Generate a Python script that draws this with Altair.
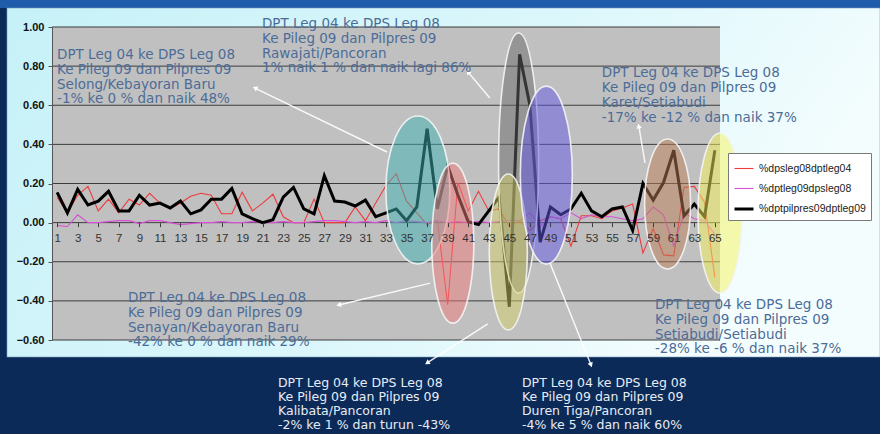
import math
import altair as alt
import pandas as pd

# ---- series data -------------------------------------------------------
categories = list(range(1, 66))

dpsleg08_dptleg04 = [
    0.13, 0.05, 0.14, 0.185, 0.06, 0.12, 0.05, 0.12, 0.09, 0.15,
    0.10, 0.07, 0.10, 0.135, 0.15, 0.14, 0.045, 0.045, 0.155, 0.06,
    0.10, 0.145, 0.03, 0.0, 0.0, 0.12, 0.0, 0.0, 0.0, 0.08,
    0.01, 0.10, 0.19, 0.25, 0.11, 0.05, -0.01, 0.01, -0.42, 0.205,
    0.06, 0.16, 0.06, 0.07, -0.02, 0.01, -0.04, 0.01, 0.03, 0.02,
    -0.12, 0.035, 0.035, 0.02, 0.06, 0.075, 0.095, -0.155, -0.03, -0.165,
    -0.17, 0.18, 0.185, 0.105, -0.28,
]

dptleg09_dpsleg08 = [
    -0.015, -0.02, 0.04, 0.0, 0.0, 0.005, 0.01, 0.01, -0.005, 0.01,
    0.01, 0.0, -0.01, -0.005, 0.0, 0.0, 0.005, 0.0, 0.0, 0.005,
    0.0, 0.0, 0.005, 0.0, 0.0, 0.005, 0.01, 0.01, 0.005, 0.0,
    0.005, 0.0, 0.01, 0.0, 0.01, 0.005, 0.0, 0.01, 0.0, 0.005,
    0.0, 0.005, 0.0, 0.005, 0.01, 0.01, 0.05, -0.02, 0.03, 0.02,
    0.05, 0.02, 0.04, 0.03, 0.03, 0.02, 0.01, 0.02, 0.08, 0.04,
    -0.12, 0.05, 0.02, 0.01, -0.06,
]

dptpilpres09_dptleg09 = [
    0.155, 0.05, 0.17, 0.09, 0.11, 0.16, 0.06, 0.06, 0.14, 0.09,
    0.10, 0.075, 0.11, 0.045, 0.065, 0.12, 0.12, 0.175, 0.045, 0.02,
    0.0, 0.015, 0.13, 0.18, 0.07, 0.045, 0.24, 0.11, 0.105, 0.085,
    0.115, 0.03, 0.05, 0.07, 0.01, 0.08, 0.48, 0.07, 0.29, 0.14,
    0.005, -0.01, 0.06, 0.13, -0.43, 0.86, 0.60, -0.10, 0.08, 0.04,
    0.07, 0.15, 0.06, 0.03, 0.07, 0.08, -0.04, 0.20, 0.115, 0.205,
    0.37, 0.035, 0.095, 0.03, 0.37,
]

series_names = ["%dpsleg08dptleg04", "%dptleg09dpsleg08", "%dptpilpres09dptleg09"]
series_values = [dpsleg08_dptleg04, dptleg09_dpsleg08, dptpilpres09_dptleg09]
series_colors = ["#ee3b3b", "#d64fd6", "#000000"]
series_widths = [1.1, 1.1, 3.0]

y_ticks = [-0.6, -0.4, -0.2, 0.0, 0.2, 0.4, 0.6, 0.8, 1.0]
x_ticks = list(range(1, 66, 2))

# ---- highlighted districts: anchor category, value, ellipse colour ----
hl_names = ["Selong", "Senayan", "Rawajati", "Kalibata", "Duren Tiga", "Karet", "Setiabudi"]
hl_cat = [36.1, 39.5, 45.9, 44.9, 48.6, 60.4, 65.5]
hl_val = [0.167, -0.105, 0.305, -0.15, 0.243, 0.095, 0.049]
hl_half_w = [32, 21, 20, 19, 26, 23, 22]
hl_half_h = [74, 80, 130, 78, 89, 65, 80]
hl_fill = ["#3fb2b2", "#f07c7c", "#6a6a6a", "#d4d06a", "#6458e6", "#bc7e58", "#f6f45a"]
hl_order = [0, 1, 2, 3, 4, 5, 6]

# ---- callout texts ----------------------------------------------------
note_lines = [
    ["DPT Leg 04 ke DPS Leg 08", "Ke Pileg 09 dan Pilpres 09", "Selong/Kebayoran Baru", "-1% ke 0 % dan naik 48%"],
    ["DPT Leg 04 ke DPS Leg 08", "Ke Pileg 09 dan Pilpres 09", "Rawajati/Pancoran", "1% naik 1 % dan naik lagi 86%"],
    ["DPT Leg 04 ke DPS Leg 08", "Ke Pileg 09 dan Pilpres 09", "Karet/Setiabudi", "-17% ke -12 % dan naik 37%"],
    ["DPT Leg 04 ke DPS Leg 08", "Ke Pileg 09 dan Pilpres 09", "Senayan/Kebayoran Baru", "-42% ke 0 % dan naik 29%"],
    ["DPT Leg 04 ke DPS Leg 08", "Ke Pileg 09 dan Pilpres 09", "Setiabudi/Setiabudi", "-28% ke -6 % dan naik 37%"],
    ["DPT Leg 04 ke DPS Leg 08", "Ke Pileg 09 dan Pilpres 09", "Kalibata/Pancoran", "-2% ke 1 % dan turun -43%"],
    ["DPT Leg 04 ke DPS Leg 08", "Ke Pileg 09 dan Pilpres 09", "Duren Tiga/Pancoran", "-4% ke 5 % dan naik 60%"],
]
note_cat = [0.99, 20.93, 54.0, 7.9, 59.17, 22.49, 46.23]
note_val = [0.893, 1.051, 0.80, -0.350, -0.385, -0.790, -0.790]
note_on_dark = [False, False, False, False, False, True, True]

# callout leader lines: (from category, from value) -> (to category, to value)
lead_from_cat = [33.1, 43.1, 58.2, 37.3, 42.9, 48.96]
lead_from_val = [0.361, 0.637, 0.305, -0.309, -0.518, -0.207]
lead_to_cat = [20.25, 40.98, 57.6, 28.4, 37.0, 52.95]
lead_to_val = [0.688, 0.77, 0.494, -0.421, -0.717, -0.728]

# ---- geometry of the canvas ------------------------------------------
PLOT_W, PLOT_H = 668, 313
PAD = {"left": 52, "top": 27, "right": 160, "bottom": 94}
X_DOMAIN = [0.5, 65.5]
Y_DOMAIN = [-0.6, 1.0]
px_per_cat = PLOT_W / (X_DOMAIN[1] - X_DOMAIN[0])
px_per_val = PLOT_H / (Y_DOMAIN[1] - Y_DOMAIN[0])
zero_offset = -PLOT_H * (0 - Y_DOMAIN[0]) / (Y_DOMAIN[1] - Y_DOMAIN[0])

x_scale = alt.Scale(domain=X_DOMAIN, nice=False, zero=False)
y_scale = alt.Scale(domain=Y_DOMAIN, nice=False, zero=False)

one_row = alt.Data(values=[{}])

# slide panel, top band and plot background
top_band = alt.Chart(one_row).mark_rect(color="#1f5cab").encode(
    x=alt.value(-PAD["left"]), x2=alt.value(PLOT_W + PAD["right"]),
    y=alt.value(-PAD["top"]), y2=alt.value(-PAD["top"] + 8),
)
panel = alt.Chart(one_row).mark_rect(
    fill={
        "gradient": "linear", "x1": 0, "y1": 0, "x2": 1, "y2": 0.3,
        "stops": [
            {"offset": 0, "color": "#c6f1f8"},
            {"offset": 0.6, "color": "#dcf7fb"},
            {"offset": 1, "color": "#f4fdfe"},
        ],
    },
    stroke="#7aa0b8", strokeWidth=0.6,
).encode(
    x=alt.value(-PAD["left"] + 7), x2=alt.value(PLOT_W + PAD["right"]),
    y=alt.value(-PAD["top"] + 8), y2=alt.value(PLOT_H + 17),
)
plot_bg = alt.Chart(one_row).mark_rect(color="#c0c0c0").encode(
    x=alt.value(0), x2=alt.value(PLOT_W), y=alt.value(0), y2=alt.value(PLOT_H),
)

grid = alt.Chart(pd.DataFrame({"v": y_ticks})).mark_rule(color="#3c3c3c", strokeWidth=1).encode(
    y=alt.Y("v:Q", scale=y_scale),
    x=alt.value(0), x2=alt.value(PLOT_W),
)

# ---- series lines ------------------------------------------------------
rows = []
for name, vals in zip(series_names, series_values):
    for c, v in zip(categories, vals):
        rows.append({"cat": c, "value": v, "series": name})
df = pd.DataFrame(rows)

legend_props = dict(
    title=None, orient="none", legendX=676, legendY=126,
    fillColor="white", strokeColor="#7a7a7a", padding=5,
    symbolType="stroke", symbolSize=360, rowPadding=4, labelOffset=4,
    labelFont="Liberation Sans", labelFontSize=10.5, labelColor="#222222",
)

lines = alt.Chart(df).mark_line(strokeJoin="miter").encode(
    x=alt.X(
        "cat:Q", scale=x_scale,
        axis=alt.Axis(
            values=x_ticks, tickCount=100, format="d", title=None, grid=False,
            offset=zero_offset, domain=False, tickColor="#3c3c3c", tickSize=4,
            labelPadding=6, labelFont="Liberation Sans", labelFontSize=11.5,
            labelColor="#333333", labelFlush=False, labelOverlap=False, zindex=1,
        ),
    ),
    y=alt.Y(
        "value:Q", scale=y_scale,
        axis=alt.Axis(
            values=y_ticks, tickCount=100, format=".2f", title=None, grid=False,
            domainColor="#555555", tickColor="#555555", tickSize=4, labelPadding=4,
            labelFont="Liberation Sans", labelFontSize=11, labelFontWeight="bold",
            labelColor="#111111", labelFlush=False, labelOverlap=False, zindex=1,
        ),
    ),
    color=alt.Color(
        "series:N", scale=alt.Scale(domain=series_names, range=series_colors),
        legend=alt.Legend(**legend_props),
    ),
    strokeWidth=alt.StrokeWidth(
        "series:N", scale=alt.Scale(type="ordinal", domain=series_names, range=series_widths),
        legend=alt.Legend(**legend_props),
    ),
)

# ---- highlight ellipses -----------------------------------------------
def ellipse_path(a, b):
    k = 0.5523
    return (
        f"M {-a} 0 C {-a} {-k*b:.2f} {-k*a:.2f} {-b} 0 {-b} "
        f"C {k*a:.2f} {-b} {a} {-k*b:.2f} {a} 0 "
        f"C {a} {k*b:.2f} {k*a:.2f} {b} 0 {b} "
        f"C {-k*a:.2f} {b} {-a} {k*b:.2f} {-a} 0 Z"
    )

ell_df = pd.DataFrame({
    "name": hl_names, "cat": hl_cat, "value": hl_val, "fill": hl_fill, "order": hl_order,
    "shape": [ellipse_path(a, b) for a, b in zip(hl_half_w, hl_half_h)],
})
ellipses = alt.Chart(ell_df).mark_point(
    filled=True, size=4, opacity=1, fillOpacity=0.5, stroke="#f4f4f4", strokeWidth=1.6, strokeOpacity=0.9,
).encode(
    x=alt.X("cat:Q", scale=x_scale),
    y=alt.Y("value:Q", scale=y_scale),
    shape=alt.Shape("shape:N", scale=None, legend=None),
    fill=alt.Fill("fill:N", scale=None, legend=None),
    order=alt.Order("order:Q"),
)

# ---- callout leaders and arrow tips ----------------------------------
lead_df = pd.DataFrame({
    "c0": lead_from_cat, "v0": lead_from_val, "c1": lead_to_cat, "v1": lead_to_val,
})
lead_df["angle"] = [
    math.degrees(math.atan2((c1 - c0) * px_per_cat, (v1 - v0) * px_per_val)) % 360
    for c0, v0, c1, v1 in zip(lead_from_cat, lead_from_val, lead_to_cat, lead_to_val)
]
leaders = alt.Chart(lead_df).mark_rule(color="white", strokeWidth=1.4, opacity=0.9).encode(
    x=alt.X("c0:Q", scale=x_scale), y=alt.Y("v0:Q", scale=y_scale),
    x2="c1:Q", y2="v1:Q",
)
tips = alt.Chart(lead_df).mark_point(shape="triangle-up", filled=True, color="white", size=30, opacity=1).encode(
    x=alt.X("c1:Q", scale=x_scale), y=alt.Y("v1:Q", scale=y_scale),
    angle=alt.Angle("angle:Q", scale=None),
)

# ---- callout texts ------------------------------------------------------
note_df = pd.DataFrame({
    "cat": note_cat, "value": note_val,
    "text": ["\n".join(ls) for ls in note_lines],
    "tone": ["dark" if d else "light" for d in note_on_dark],
})
notes_light = alt.Chart(note_df[note_df.tone == "light"]).mark_text(
    align="left", baseline="top", font="DejaVu Sans", fontSize=13.5, lineHeight=14.8,
    lineBreak="\n", color="#4c6c98",
).encode(
    x=alt.X("cat:Q", scale=x_scale), y=alt.Y("value:Q", scale=y_scale), text="text:N",
)
notes_dark = alt.Chart(note_df[note_df.tone == "dark"]).mark_text(
    align="left", baseline="top", font="DejaVu Sans", fontSize=12.5, lineHeight=14,
    lineBreak="\n", color="#e6edf5",
).encode(
    x=alt.X("cat:Q", scale=x_scale), y=alt.Y("value:Q", scale=y_scale), text="text:N",
)

chart = alt.layer(
    top_band, panel, plot_bg, grid, lines, ellipses, leaders, tips, notes_light, notes_dark,
).properties(
    width=PLOT_W, height=PLOT_H, padding=PAD, autosize=alt.AutoSizeParams(type="none"),
    background="#0c2a58",
).configure_view(stroke=None)

chart.save("out.html", embed_options={"renderer": "svg", "actions": False})
